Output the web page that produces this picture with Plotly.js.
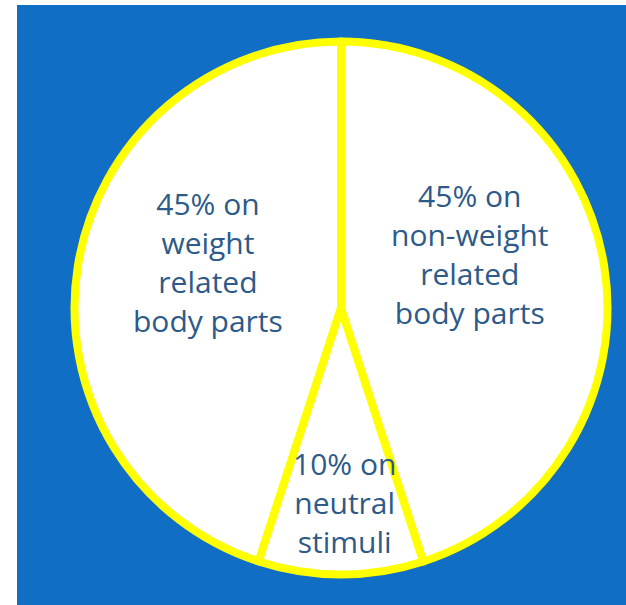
<!DOCTYPE html>
<html>
<head>
<meta charset="utf-8">
<script src="https://cdn.plot.ly/plotly-3.0.1.min.js"></script>
<style>
  html, body { margin: 0; padding: 0; background: #ffffff; }
  #chart { width: 626px; height: 605px; }
</style>
</head>
<body>
<div id="chart"></div>
<script>
// Where attention goes: share of fixation time per stimulus type
const categories = ["weight related body parts", "neutral stimuli", "non-weight related body parts"];
const shares = [45, 10, 45];
const labelLines = [
  ["weight", "related", "body parts"],
  ["neutral", "stimuli"],
  ["non-weight", "related", "body parts"]
];

// label anchor points (paper fractions) for each slice
const labelX = [0.332, 0.551, 0.751];
const labelY = [0.567, 0.170, 0.580];

const BLUE = "#106EC4";
const YELLOW = "#FFFF00";
const TEXT = "#2D5A88";

const trace = {
  type: "pie",
  labels: categories,
  values: shares,
  sort: false,
  direction: "counterclockwise",
  // first slice fills the left half up to 12 o'clock, neutral sits at the bottom
  rotation: 198,
  textinfo: "none",
  hoverinfo: "skip",
  marker: {
    colors: categories.map(() => "#ffffff"),
    line: { color: YELLOW, width: 8 }
  },
  domain: { x: [0.119, 0.9705], y: [0.0504, 0.9314] }
};

const annotations = categories.map((c, i) => ({
  xref: "paper", yref: "paper",
  x: labelX[i], y: labelY[i],
  xanchor: "center", yanchor: "middle",
  showarrow: false,
  align: "center",
  text: shares[i] + "% on<br>" + labelLines[i].join("<br>"),
  font: { family: "Open Sans, sans-serif", size: 30, color: TEXT }
}));

const layout = {
  width: 626,
  height: 605,
  margin: { l: 0, r: 0, t: 0, b: 0 },
  paper_bgcolor: "#ffffff",
  showlegend: false,
  shapes: [{
    type: "rect", xref: "paper", yref: "paper", layer: "below",
    x0: 17 / 626, x1: 1, y0: 0, y1: 1 - 5 / 605,
    fillcolor: BLUE, line: { width: 0 }
  }],
  annotations: annotations
};

Plotly.newPlot("chart", [trace], layout, { staticPlot: true, displayModeBar: false });
</script>
</body>
</html>
